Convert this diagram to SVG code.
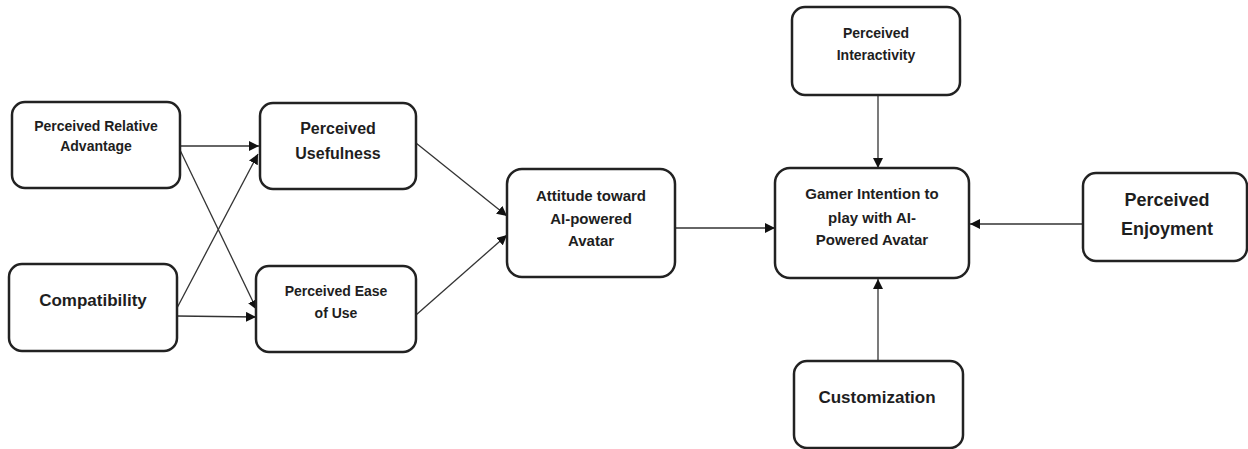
<svg xmlns="http://www.w3.org/2000/svg" width="1248" height="449" viewBox="0 0 1248 449">
<style>
.box{fill:#fff;stroke:#222;stroke-width:2.5}
.t{font-family:"Liberation Sans",Arial,sans-serif;font-weight:bold;fill:#1e1e1e;text-anchor:middle;dominant-baseline:central}
.s14{font-size:14px}.s15{font-size:15px}.s16{font-size:16px}.s17{font-size:17px}.s18{font-size:18px}
.c{stroke:#333;stroke-width:1.3;fill:none;marker-end:url(#ah)}
</style>
<defs>
<marker id="ah" viewBox="0 0 10 10" refX="10" refY="5" markerWidth="10" markerHeight="10" markerUnits="userSpaceOnUse" orient="auto">
<path d="M0,0 L10,5 L0,10 z" fill="#111"/>
</marker>
</defs>
<rect width="1248" height="449" fill="#fff"/>
<g id="connectors">
<line class="c" x1="180" y1="146" x2="259" y2="146"/>
<line class="c" x1="180" y1="150" x2="257" y2="310"/>
<line class="c" x1="177" y1="308" x2="258" y2="154"/>
<line class="c" x1="177" y1="316" x2="256" y2="317"/>
<line class="c" x1="416" y1="143" x2="507" y2="216"/>
<line class="c" x1="416" y1="315" x2="507" y2="235"/>
<line class="c" x1="675" y1="228" x2="775" y2="228"/>
<line class="c" x1="878" y1="95" x2="878" y2="168"/>
<line class="c" x1="878" y1="361" x2="878" y2="279"/>
<line class="c" x1="1083" y1="224" x2="970" y2="224"/>
</g>
<g id="n-pra">
<rect class="box" x="12" y="102" width="168" height="86" rx="13"/>
<text class="t s14" x="96" y="126">Perceived Relative</text>
<text class="t s14" x="96" y="146">Advantage</text>
</g>
<g id="n-pu">
<rect class="box" x="260" y="103" width="156" height="86" rx="13"/>
<text class="t s16" x="338" y="128">Perceived</text>
<text class="t s16" x="338" y="153">Usefulness</text>
</g>
<g id="n-compat">
<rect class="box" x="9" y="264" width="168" height="87" rx="13"/>
<text class="t s17" x="93" y="300">Compatibility</text>
</g>
<g id="n-peu">
<rect class="box" x="256" y="266" width="160" height="86" rx="13"/>
<text class="t s14" x="336" y="291">Perceived Ease</text>
<text class="t s14" x="336" y="313">of Use</text>
</g>
<g id="n-att">
<rect class="box" x="507" y="169" width="168" height="108" rx="15"/>
<text class="t s15" x="591" y="195">Attitude toward</text>
<text class="t s15" x="591" y="218">AI-powered</text>
<text class="t s15" x="591" y="240">Avatar</text>
</g>
<g id="n-pi">
<rect class="box" x="792" y="7" width="168" height="88" rx="13"/>
<text class="t s14" x="876" y="33">Perceived</text>
<text class="t s14" x="876" y="55">Interactivity</text>
</g>
<g id="n-gi">
<rect class="box" x="775" y="168" width="194" height="110" rx="15"/>
<text class="t s15" x="872" y="193">Gamer Intention to</text>
<text class="t s15" x="872" y="217">play with AI-</text>
<text class="t s15" x="872" y="239">Powered Avatar</text>
</g>
<g id="n-pe">
<rect class="box" x="1083" y="173" width="164" height="88" rx="13"/>
<text class="t s18" x="1167" y="200">Perceived</text>
<text class="t s18" x="1167" y="229">Enjoyment</text>
</g>
<g id="n-cust">
<rect class="box" x="794" y="361" width="169" height="87" rx="13"/>
<text class="t s17" x="877" y="397">Customization</text>
</g>
</svg>
